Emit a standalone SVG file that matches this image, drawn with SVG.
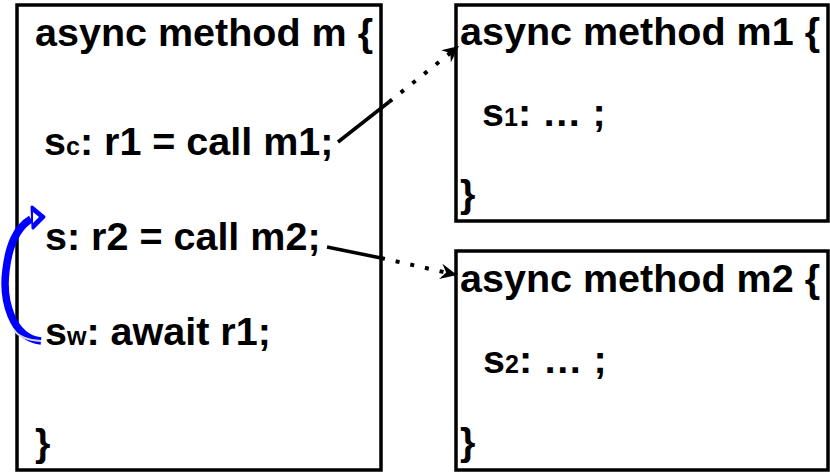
<svg xmlns="http://www.w3.org/2000/svg" width="830" height="475" viewBox="0 0 830 475">
<defs>
<style>
.box{fill:#fff;stroke:#000;stroke-width:3.5}
text{font-family:"Liberation Sans",Arial,sans-serif;font-weight:bold;font-size:39.5px;fill:#000}
.sub{font-size:25px}
.solid{fill:none;stroke:#000;stroke-width:3.5}
.dot{fill:none;stroke:#000;stroke-width:4;stroke-dasharray:4 11}
</style>
<marker id="dart" markerUnits="userSpaceOnUse" markerWidth="20" markerHeight="20" viewBox="-16 -8 18 16" refX="0" refY="0" orient="auto">
<path d="M0,0 L-15,-7 L-10,0 L-15,7 Z" fill="#000"/>
</marker>
</defs>
<g id="m">
<rect class="box" x="17" y="5" width="364" height="465"/>
<text x="35" y="46">async method m {</text>
<text x="44" y="155">s<tspan class="sub">c</tspan>: r1 = call m1;</text>
<text x="45" y="250">s: r2 = call m2;</text>
<text x="45" y="345">s<tspan class="sub">w</tspan>: await r1;</text>
<text x="35" y="456">}</text>
</g>
<g id="m1">
<rect class="box" x="456" y="5" width="372" height="216"/>
<text x="460" y="45">async method m1 {</text>
<text x="482" y="126">s<tspan class="sub">1</tspan>: … ;</text>
<text x="460" y="207">}</text>
</g>
<g id="m2">
<rect class="box" x="456" y="251" width="372" height="219"/>
<text x="460" y="292">async method m2 {</text>
<text x="483" y="373">s<tspan class="sub">2</tspan>: … ;</text>
<text x="460" y="455">}</text>
</g>
<g id="connectors">
<path class="solid" d="M338,142 L389,102"/>
<path class="dot" d="M389,102 L459,46" marker-end="url(#dart)"/>
<path class="solid" d="M327,247 L381,258"/>
<path class="dot" d="M381,258 L457,275" marker-end="url(#dart)"/>
<path d="M41,341 C12,338 2,300 6,270 C9,245 16,228 31,219" fill="none" stroke="#0000ff" stroke-width="7.5"/>
<path d="M41,341 C25,340 18,336 14,330" fill="none" stroke="#d8d8d8" stroke-width="2"/>
<path d="M32,207 L44,217 L33,228 Z" fill="#0000ff" stroke="#0000ff" stroke-width="3" stroke-linejoin="round"/>
<path d="M33,212 L39,217 L33,223 Z" fill="#fff"/>
</g>
</svg>
